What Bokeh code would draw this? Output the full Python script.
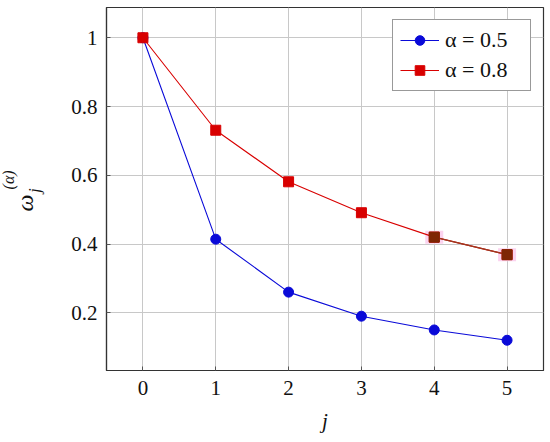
import math
from bokeh.plotting import figure
from bokeh.layouts import row
from bokeh.models import FixedTicker, CustomJSTickFormatter, Label, Range1d
from bokeh.embed import file_html
from bokeh.resources import INLINE

# ---- data ----
j_vals = [0, 1, 2, 3, 4, 5]
w_alpha05 = [1.0, 0.414, 0.26, 0.19, 0.15, 0.12]
w_alpha08 = [1.0, 0.731, 0.581, 0.491, 0.42, 0.369]
x_ticks = [0, 1, 2, 3, 4, 5]
y_ticks = [0.2, 0.4, 0.6, 0.8, 1.0]
series_labels = ["α = 0.5", "α = 0.8"]

FONT = "Liberation Serif"
BLUE = "#0a0ad8"
RED = "#d80000"
H = 440
LW = 50  # width of the y-label strip

# ---- main plot ----
p = figure(width=498, height=H, output_backend="svg", toolbar_location=None,
           x_range=Range1d(-0.5, 5.5), y_range=Range1d(0.032, 1.088),
           min_border_left=56, min_border_right=5, min_border_top=7,
           min_border_bottom=70)

p.background_fill_color = "white"
p.border_fill_color = "white"
p.outline_line_color = "#333333"
p.outline_line_width = 1.2

fmt = CustomJSTickFormatter(code="return (Math.round(tick*10)/10).toString();")
p.xaxis.ticker = FixedTicker(ticks=x_ticks)
p.yaxis.ticker = FixedTicker(ticks=y_ticks)
p.xaxis.formatter = fmt
p.yaxis.formatter = fmt
for ax in (p.xaxis, p.yaxis):
    ax.axis_line_color = "#333333"
    ax.axis_line_width = 1.2
    ax.major_tick_in = 4
    ax.major_tick_out = 0
    ax.major_tick_line_color = "#555555"
    ax.minor_tick_line_color = None
    ax.major_label_text_font = FONT
    ax.major_label_text_font_size = "21px"
    ax.major_label_text_color = "#111111"
p.xaxis.major_label_standoff = 10
p.yaxis.major_label_standoff = 9

p.xaxis.axis_label = "j"
p.xaxis.axis_label_text_font = FONT
p.xaxis.axis_label_text_font_style = "italic"
p.xaxis.axis_label_text_font_size = "21px"
p.xaxis.axis_label_text_color = "#111111"
p.xaxis.axis_label_standoff = 11

p.grid.grid_line_color = "#c8c8c8"
p.grid.grid_line_width = 1

# pink halo artefacts behind last two red markers
p.rect(j_vals[4:], w_alpha08[4:], width=18, height=13, width_units="screen",
       height_units="screen", fill_color="#fbd3ef", line_color=None)

# series alpha = 0.5
p.line(j_vals, w_alpha05, line_color=BLUE, line_width=1.1, legend_label=series_labels[0])
p.scatter(j_vals, w_alpha05, marker="circle", size=10, fill_color=BLUE,
          line_color=BLUE, legend_label=series_labels[0])

# series alpha = 0.8
p.line(j_vals, w_alpha08, line_color=RED, line_width=1.1, legend_label=series_labels[1])
p.scatter(j_vals, w_alpha08, marker="square", size=10, fill_color=RED,
          line_color=RED, legend_label=series_labels[1])
p.line(j_vals[4:], w_alpha08[4:], line_color="#9a3a20", line_width=1.1)
p.scatter(j_vals[4:], w_alpha08[4:], marker="square", size=10,
          fill_color="#7e2604", line_color="#7e2604")

leg = p.legend[0]
leg.location = "top_right"
leg.margin = 12
leg.padding = 7
leg.spacing = 4
leg.glyph_width = 39
leg.glyph_height = 24
leg.label_height = 24
leg.label_width = 78
leg.label_standoff = 6
leg.label_text_font = FONT
leg.label_text_font_size = "22px"
leg.label_text_color = "#111111"
leg.border_line_color = "#333333"
leg.border_line_width = 1.2
leg.background_fill_alpha = 1.0

# ---- y-label strip:  ω_j^(α), rotated ----
q = figure(width=LW, height=H, output_backend="svg", toolbar_location=None,
           x_range=Range1d(0, LW), y_range=Range1d(0, H),
           x_axis_type=None, y_axis_type=None,
           min_border_left=0, min_border_right=0, min_border_top=0,
           min_border_bottom=0)
q.outline_line_color = None
q.grid.visible = False
q.background_fill_color = "white"
q.border_fill_color = "white"

rot = math.pi / 2
q.add_layout(Label(x=24, y=203, text="ω", angle=rot, text_align="center",
                   text_baseline="middle", text_font=FONT,
                   text_font_style="italic", text_font_size="24px",
                   text_color="#111111"))
q.add_layout(Label(x=34, y=218, text="j", angle=rot, text_align="center",
                   text_baseline="middle", text_font=FONT,
                   text_font_style="italic", text_font_size="16px",
                   text_color="#111111"))
q.add_layout(Label(x=8, y=231, text="(α)", angle=rot, text_align="center",
                   text_baseline="middle", text_font=FONT,
                   text_font_style="italic", text_font_size="16px",
                   text_color="#111111"))

layout = row(q, p, spacing=0)
open("out.html", "w").write(file_html(layout, INLINE))
